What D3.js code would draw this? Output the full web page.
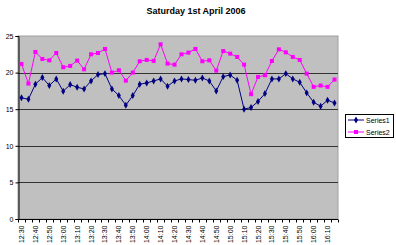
<!DOCTYPE html>
<html><head><meta charset="utf-8">
<script src="https://cdn.jsdelivr.net/npm/d3@7"></script>
<style>
html,body{margin:0;padding:0;background:#fff;}
svg{display:block;font-family:Arial,"Liberation Sans",sans-serif;}
</style></head>
<body><svg id="c" width="396" height="245"></svg>
<script>
const title = "Saturday 1st April 2006";
const categories = ["12:30","12:35","12:40","12:45","12:50","12:55","13:00","13:05","13:10","13:15",
  "13:20","13:25","13:30","13:35","13:40","13:45","13:50","13:55","14:00","14:05",
  "14:10","14:15","14:20","14:25","14:30","14:35","14:40","14:45","14:50","14:55",
  "15:00","15:05","15:10","15:15","15:20","15:25","15:30","15:35","15:40","15:45",
  "15:50","15:55","16:00","16:05","16:10","16:15"];
const series1 = [16.55,16.36,18.41,19.32,18.23,19.14,17.45,18.36,18.0,17.77,
  18.86,19.73,19.86,17.77,16.86,15.55,16.86,18.41,18.59,18.86,
  19.14,18.14,18.86,19.14,19.05,18.95,19.27,18.86,17.5,19.45,
  19.68,18.95,15.0,15.23,16.05,17.14,19.14,19.14,19.86,19.14,
  18.68,17.23,15.95,15.41,16.23,15.86];
const series2 = [21.18,18.5,22.82,21.86,21.68,22.68,20.73,20.91,21.64,20.45,
  22.5,22.68,23.23,20.0,20.32,18.9,20.0,21.55,21.73,21.6,
  23.86,21.23,21.09,22.5,22.73,23.23,21.55,21.68,20.27,22.95,
  22.59,22.14,21.09,17.05,19.41,19.64,21.59,23.18,22.77,22.14,
  21.73,19.86,18.05,18.23,18.05,19.05];
const seriesNames = ["Series1","Series2"];
const yTicks = [0,5,10,15,20,25];
const xTickLabels = ["12:30","12:40","12:50","13:00","13:10","13:20","13:30","13:40","13:50","14:00",
  "14:10","14:20","14:30","14:40","14:50","15:00","15:10","15:20","15:30","15:40","15:50","16:00","16:10"];

const svg = d3.select("#c");
const L = 18, R = 338, T = 36, B = 219;

const x = d3.scaleBand().domain(categories).range([L, R]).padding(0);
const y = d3.scaleLinear().domain([0, 25]).range([B, T]);
const cx = d => x(d) + x.bandwidth() / 2;

svg.append("text").attr("x", 196).attr("y", 14).attr("text-anchor", "middle")
  .attr("font-size", 9).attr("font-weight", "bold").text(title);

// plot area
svg.append("rect").attr("x", L).attr("y", T).attr("width", R - L).attr("height", B - T)
  .attr("fill", "#c0c0c0").attr("stroke", "#a0a0a0").attr("stroke-width", 1);

// gridlines
svg.append("g").selectAll("line").data(yTicks.filter(v => v > 0 && v < 25)).join("line")
  .attr("x1", L).attr("x2", R).attr("y1", d => Math.round(y(d)) + 0.5).attr("y2", d => Math.round(y(d)) + 0.5)
  .attr("stroke", "#333").attr("stroke-width", 1);

// y axis
const yAxis = d3.axisLeft(y).tickValues(yTicks).tickSize(3).tickPadding(2);
const gy = svg.append("g").attr("transform", `translate(${L + 0.5},0)`).call(yAxis);
gy.select(".domain").attr("stroke", "#000");
gy.selectAll(".tick line").attr("stroke", "#000");
gy.selectAll("text").attr("font-size", 7).attr("font-family", "Arial,'Liberation Sans',sans-serif").attr("fill", "#000");

// x axis
const gx = svg.append("g").attr("transform", `translate(0,${B + 0.5})`);
gx.append("line").attr("x1", L).attr("x2", R).attr("stroke", "#000");
const bounds = categories.map(c => x(c)).concat([R]);
gx.selectAll("line.t").data(bounds).join("line").attr("class", "t")
  .attr("x1", d => Math.round(d) + 0.5).attr("x2", d => Math.round(d) + 0.5).attr("y1", 0).attr("y2", 3).attr("stroke", "#000");
gx.selectAll("text").data(xTickLabels).join("text")
  .attr("transform", d => `translate(${cx(d) + 2.5},6) rotate(-90)`)
  .attr("text-anchor", "end").attr("font-size", 7).attr("fill", "#000").text(d => d);

// series
const line = d3.line().x((d, i) => cx(categories[i])).y(d => y(d));
svg.append("path").datum(series1).attr("d", line).attr("fill", "none").attr("stroke", "#000080").attr("stroke-width", 1);
svg.append("path").datum(series2).attr("d", line).attr("fill", "none").attr("stroke", "#ff00ff").attr("stroke-width", 1);
const diamond = d3.symbol().type(d3.symbolDiamond).size(14);
svg.append("g").selectAll("path").data(series1).join("path")
  .attr("transform", (d, i) => `translate(${cx(categories[i])},${y(d)})`)
  .attr("d", diamond).attr("fill", "#000080");
svg.append("g").selectAll("rect").data(series2).join("rect")
  .attr("x", (d, i) => cx(categories[i]) - 2).attr("y", d => y(d) - 2)
  .attr("width", 4).attr("height", 4).attr("fill", "#ff00ff");

// legend
const lg = svg.append("g");
lg.append("rect").attr("x", 345.5).attr("y", 114.5).attr("width", 48).attr("height", 23)
  .attr("fill", "#fff").attr("stroke", "#000");
const ly = [120, 132];
seriesNames.forEach((n, i) => {
  const col = i === 0 ? "#000080" : "#ff00ff";
  lg.append("line").attr("x1", 348).attr("x2", 364).attr("y1", ly[i]).attr("y2", ly[i]).attr("stroke", col);
  if (i === 0) lg.append("path").attr("transform", `translate(356,${ly[i]})`).attr("d", diamond).attr("fill", col);
  else lg.append("rect").attr("x", 354).attr("y", ly[i] - 2).attr("width", 4).attr("height", 4).attr("fill", col);
  lg.append("text").attr("x", 366).attr("y", ly[i] + 2.5).attr("font-size", 7).attr("fill", "#000").text(n);
});
</script></body></html>
